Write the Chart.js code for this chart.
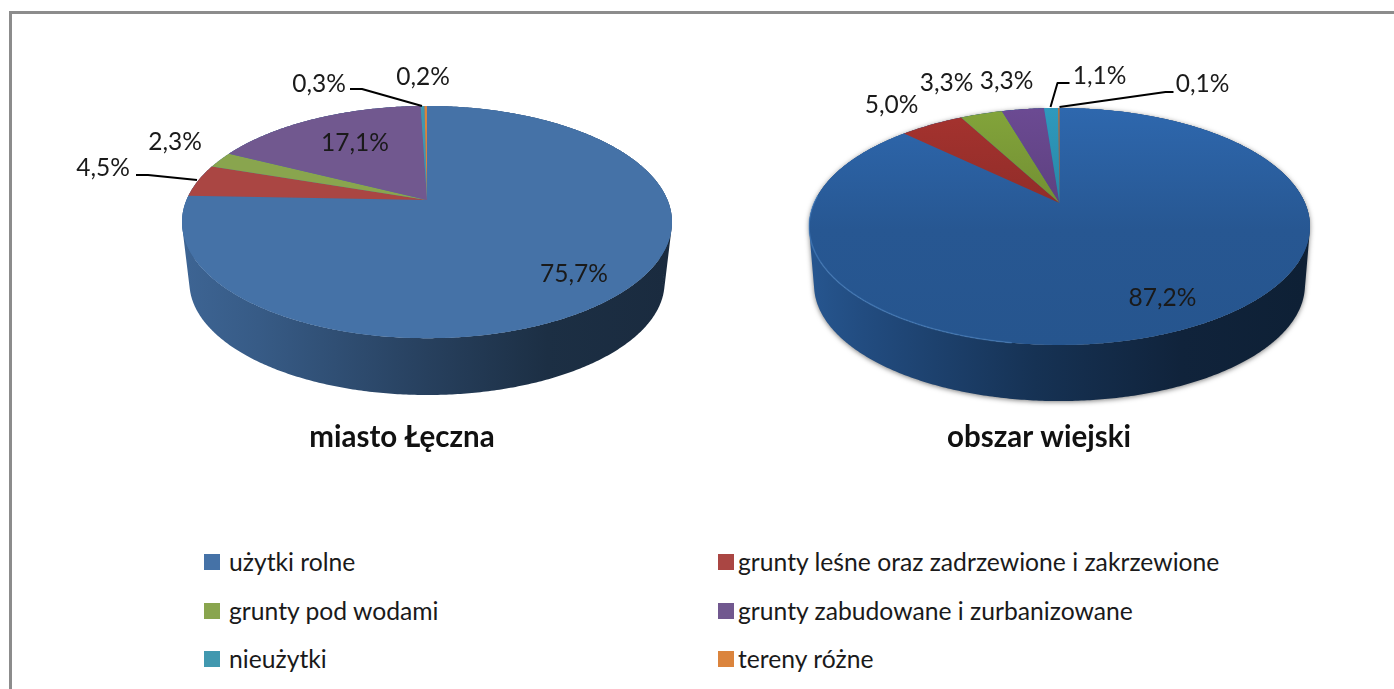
<!DOCTYPE html>
<html lang="pl">
<head>
<meta charset="utf-8">
<script src="https://cdn.jsdelivr.net/npm/chart.js@4"></script>
<style>
html,body{margin:0;padding:0;background:#fff;width:1394px;height:689px;overflow:hidden;font-family:Lato,sans-serif}
#frameTop{position:absolute;left:9px;top:11px;width:1385px;height:3px;background:#8c8c8c}
#frameLeft{position:absolute;left:9px;top:11px;width:3px;height:678px;background:#8c8c8c}
canvas{position:absolute;top:0}
#c1{left:0}
#c2{left:700px}
.lg{position:absolute;font-size:24.7px;line-height:28px;color:#1a1a1a;white-space:nowrap}
.sw{position:absolute;width:16px;height:16px}
</style>
</head>
<body>
<div id="frameTop"></div><div id="frameLeft"></div>
<canvas id="c1" width="804" height="474"></canvas>
<canvas id="c2" width="678" height="468"></canvas>
<div id="legend"></div>
<script>
const categories = ['użytki rolne','grunty leśne oraz zadrzewione i zakrzewione','grunty pod wodami','grunty zabudowane i zurbanizowane','nieużytki','tereny różne'];
const titleCity = 'miasto Łęczna';
const titleRural = 'obszar wiejski';
const valuesCity = [75.7,4.5,2.3,17.1,0.3,0.2];
const valuesRural = [87.2,5.0,3.3,3.3,1.1,0.1];
const legendColors = ['#4572A7','#AA4643','#89A54E','#71588F','#4198AF','#DB843D'];
const colorsRural = ['#2f6ab2','#aa3430','#86a83c','#6e4c96','#2f9dc2','#d87a28'];

// label placement relative to the pie centre, and leader lines (same frame)
const labelOffsetsCity = [[147,74],[-324,-32],[-252,-58],[-72,-57],[-108,-116],[-4,-123]];
const leadersCity = {1:[[-291,-25],[-279,-25],[-230,-20]],4:[[-77,-111],[-65,-111],[-5,-94]]};
const labelOffsetsRural = [[103,95],[-168,-98],[-113,-120],[-53,-122],[40,-127],[143,-119]];
const leadersRural = {4:[[-9,-96],[-2,-120],[10,-120]],5:[[0,-96],[106,-111],[114,-111]]};

const fmt = v => v.toFixed(1).replace('.',',') + '%';

function hex(c){return [1,3,5].map(i=>parseInt(c.substr(i,2),16));}
function shade(c,f){return 'rgb('+hex(c).map(v=>Math.round(v*f)).join(',')+')';}

const tiltedPie = {
  id:'tiltedPie',
  beforeDatasetsDraw(chart,args,o){
    const ctx=chart.ctx, meta=chart.getDatasetMeta(0), arcs=meta.data;
    const R=arcs[0].outerRadius, cx=arcs[0].x+o.dx, cy=arcs[0].y;
    const a=R*o.squash;
    const proj=t=>{ // t = canvas angle of the element
      const u=Math.cos(t), v=Math.sin(t), w=1-o.k*v;
      return [R*u/w, a*v/w];
    };
    const top=t=>{const p=proj(t);return [cx+p[0],cy+p[1]];};
    const low=t=>{const p=proj(t);return [cx+o.wallScale*p[0],cy+o.wallScale*p[1]+o.depth];};
    const samples=(s,e)=>{const n=Math.max(2,Math.ceil((e-s)/0.01)),r=[];for(let i=0;i<=n;i++)r.push(s+(e-s)*i/n);return r;};
    ctx.save();
    // outer wall: consistently oriented quads so the silhouette is the full hull
    if(o.shadow){ctx.shadowColor='rgba(0,0,0,0.5)';ctx.shadowBlur=5;ctx.shadowOffsetY=1;}
    arcs.forEach((el,i)=>{
      const s=el.startAngle,e=el.endAngle;
      if(e-s<0.2) return;
      const col=chart.data.datasets[0].backgroundColor[i];
      const pts=samples(s,e);
      ctx.beginPath();
      for(let j=0;j<pts.length-1;j++){
        const q=[top(pts[j]),top(pts[j+1]),low(pts[j+1]),low(pts[j])];
        let area=0;
        q.forEach((p,n)=>{const r=q[(n+1)%4];area+=p[0]*r[1]-r[0]*p[1];});
        if(area<0) q.reverse();
        q.forEach((p,n)=>{n?ctx.lineTo(p[0],p[1]):ctx.moveTo(p[0],p[1]);});
        ctx.closePath();
      }
      const g=ctx.createLinearGradient(cx-R,0,cx+R,0);
      o.wallStops.forEach(st=>g.addColorStop(st[0],shade(col,st[1])));
      ctx.fillStyle=g;ctx.fill();
    });
    ctx.restore();
    // top surface
    const grad=col=>{
      if(!o.sheen) return col;
      const g=ctx.createLinearGradient(0,cy-a,0,cy+a*1.25);
      g.addColorStop(0,col);g.addColorStop(0.55,shade(col,0.82));g.addColorStop(1,shade(col,0.8));
      return g;
    };
    const base=chart.data.datasets[0].backgroundColor[0];
    ctx.beginPath();
    samples(0,Math.PI*2).forEach((t,j)=>{const p=top(t);j?ctx.lineTo(p[0],p[1]):ctx.moveTo(p[0],p[1]);});
    ctx.closePath();ctx.fillStyle=grad(base);ctx.fill();
    arcs.forEach((el,i)=>{
      const col=chart.data.datasets[0].backgroundColor[i];
      ctx.beginPath();ctx.moveTo(cx,cy);
      samples(el.startAngle,el.endAngle).forEach(t=>{const p=top(t);ctx.lineTo(p[0],p[1]);});
      ctx.closePath();
      ctx.fillStyle=grad(col);ctx.fill();
    });
    if(o.sheen){ // light rim along the front-left edge
      ctx.beginPath();
      samples(Math.PI*0.55,Math.PI*1.02).forEach((t,j)=>{const p=top(t);j?ctx.lineTo(p[0],p[1]):ctx.moveTo(p[0],p[1]);});
      ctx.strokeStyle='rgba(90,150,215,0.4)';ctx.lineWidth=1.5;ctx.stroke();
    }
    return false;
  },
  afterDraw(chart,args,o){
    const ctx=chart.ctx, arcs=chart.getDatasetMeta(0).data;
    const cx=arcs[0].x+o.dx, cy=arcs[0].y;
    ctx.save();
    ctx.strokeStyle='#000';ctx.lineWidth=2;ctx.lineJoin='round';
    Object.values(o.leaders).forEach(l=>{
      ctx.beginPath();
      l.forEach((p,j)=>{j?ctx.lineTo(cx+p[0],cy+p[1]):ctx.moveTo(cx+p[0],cy+p[1]);});
      ctx.stroke();
    });
    ctx.font='24.5px Lato';ctx.fillStyle='#1a1a1a';ctx.textAlign='center';ctx.textBaseline='middle';
    chart.data.datasets[0].data.forEach((v,i)=>{
      const off=o.labels[i];
      ctx.fillText(fmt(v),cx+off[0],cy+off[1]);
    });
    ctx.restore();
  }
};

function makePie(id,title,values,colors,radius,titlePad,pie){
  return new Chart(document.getElementById(id),{
    type:'pie',
    data:{labels:categories,datasets:[{data:values,backgroundColor:colors,borderWidth:0}]},
    options:{
      responsive:false,animation:false,radius:radius,
      layout:{padding:0},
      events:[],
      plugins:{
        legend:{display:false},tooltip:{enabled:false},
        title:{display:true,text:title,position:'bottom',color:'#111',
          font:{family:'Lato',size:29.5,weight:'bold',lineHeight:1.2},padding:titlePad},
        tiltedPie:pie
      }
    },
    plugins:[tiltedPie]
  });
}
const wallCity=[[0,0.88],[0.15,0.8],[0.5,0.56],[0.75,0.41],[1,0.38]];
const wallRural=[[0,0.8],[0.1,0.72],[0.45,0.47],[0.75,0.33],[1,0.3]];
makePie('c1',titleCity,valuesCity,legendColors,240.5,19.3,
  {dx:25,k:0.19,squash:0.4653,depth:61,wallScale:0.97,wallStops:wallCity,sheen:false,shadow:false,labels:labelOffsetsCity,leaders:leadersCity});
makePie('c2',titleRural,valuesRural,colorsRural,245.5,13.3,
  {dx:20.5,k:0.198,squash:0.4636,depth:59,wallScale:0.98,wallStops:wallRural,sheen:true,shadow:true,labels:labelOffsetsRural,leaders:leadersRural});

// legend: two columns, three rows
const legendBox=document.getElementById('legend');
const colX=[204,718], rowY=[562,611,659];
categories.forEach((name,i)=>{
  const x=colX[i%2], y=rowY[Math.floor(i/2)];
  const sw=document.createElement('div');sw.className='sw';
  sw.style.cssText='left:'+x+'px;top:'+(y-8)+'px;background:'+legendColors[i];
  const t=document.createElement('div');t.className='lg';t.textContent=name;
  t.style.cssText='left:'+(x+(i%2?20:25))+'px;top:'+(y-14)+'px';
  legendBox.append(sw,t);
});
</script>
</body>
</html>
